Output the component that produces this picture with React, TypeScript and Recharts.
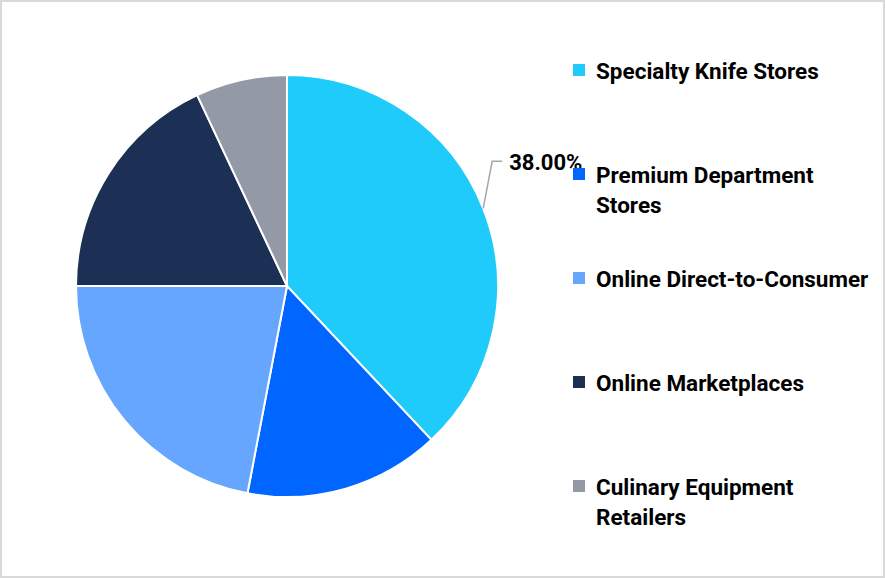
import React from "react";
import { PieChart, Pie, Cell, Legend } from "recharts";

const categories = [
  "Specialty Knife Stores",
  "Premium Department Stores",
  "Online Direct-to-Consumer",
  "Online Marketplaces",
  "Culinary Equipment Retailers",
];
const shares = [38, 15, 22, 18, 7];
const colors = ["#1ecbfa", "#0066ff", "#66a6ff", "#1c2f55", "#9499a6"];

const data = categories.map((name, i) => ({ name, value: shares[i] }));

const FONT = "Roboto, 'Open Sans', sans-serif";
const RAD = Math.PI / 180;

const renderLabel = (props: any) => {
  const { cx, cy, midAngle, outerRadius, index, percent } = props;
  if (index !== 0) return null;
  const x0 = cx + outerRadius * Math.cos(-midAngle * RAD);
  const y0 = cy + outerRadius * Math.sin(-midAngle * RAD);
  const x1 = x0 + 9;
  const y1 = y0 - 47;
  const x2 = x1 + 10;
  return (
    <g>
      <polyline
        points={`${x0},${y0} ${x1},${y1} ${x2},${y1}`}
        fill="none"
        stroke="#a6a6a6"
        strokeWidth={1.5}
      />
      <text
        x={x2 + 7}
        y={y1 + 1}
        dominantBaseline="central"
        fill="#000"
        fontFamily={FONT}
        fontWeight={700}
        fontSize={22}
      >
        {(percent * 100).toFixed(2) + "%"}
      </text>
    </g>
  );
};

const renderLegend = () => (
  <div style={{ fontFamily: FONT, fontWeight: 700, fontSize: 22.5, color: "#000" }}>
    {categories.map((c, i) => (
      <div key={c} style={{ display: "flex", height: 104, alignItems: "flex-start" }}>
        <div
          style={{
            width: 12,
            height: 12,
            marginTop: 8,
            background: colors[i],
            flex: "none",
          }}
        />
        <div style={{ marginLeft: 11, lineHeight: "30px", width: 277 }}>{c}</div>
      </div>
    ))}
  </div>
);

export default function App() {
  return (
    <div style={{ position: "absolute", left: 0, top: 0, width: 885, height: 578, background: "#fff" }}>
      <PieChart width={885} height={578} margin={{ top: 0, right: 0, bottom: 0, left: 0 }}>
        <Pie
          data={data}
          dataKey="value"
          nameKey="name"
          cx={287}
          cy={286}
          outerRadius={211}
          startAngle={90}
          endAngle={-270}
          stroke="#fff"
          strokeWidth={2}
          label={renderLabel}
          labelLine={false}
          isAnimationActive={false}
        >
          {data.map((d, i) => (
            <Cell key={d.name} fill={colors[i]} />
          ))}
        </Pie>
        <Legend
          content={renderLegend}
          wrapperStyle={{ position: "absolute", left: 573, top: 56, width: 310 }}
        />
      </PieChart>
      <div
        style={{
          position: "absolute",
          left: 0,
          top: 0,
          width: 885,
          height: 578,
          boxSizing: "border-box",
          border: "2px solid #d9d9d9",
          pointerEvents: "none",
        }}
      />
    </div>
  );
}
